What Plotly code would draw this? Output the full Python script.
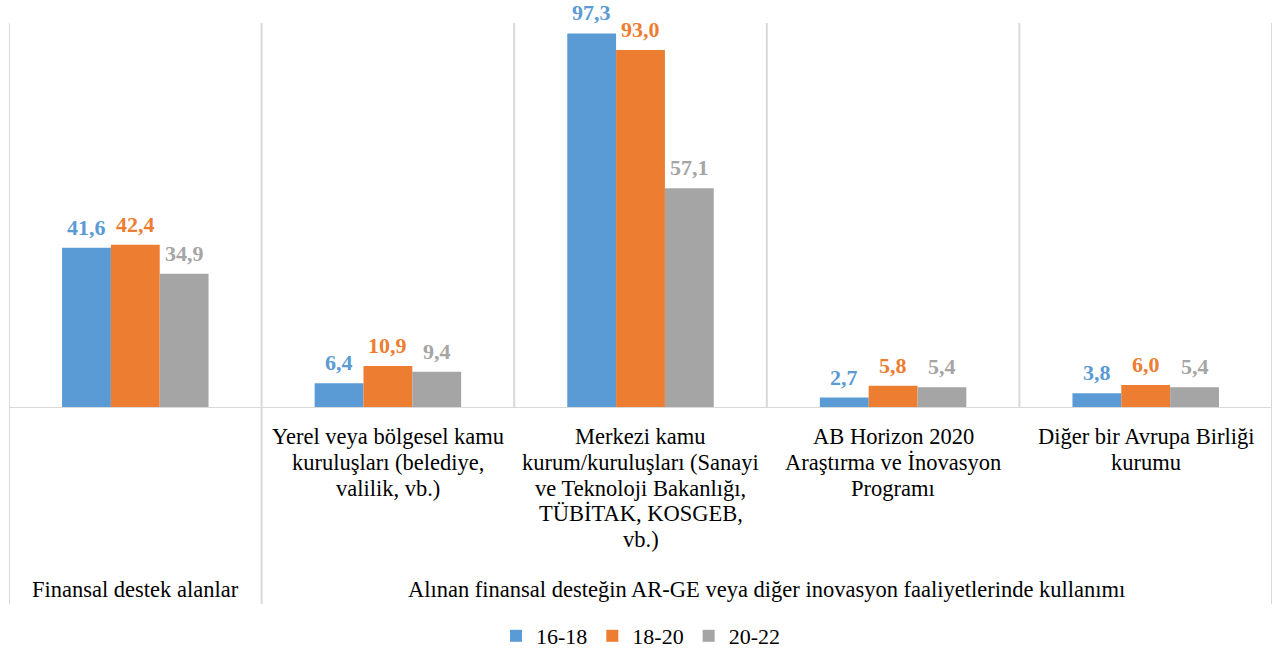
import plotly.graph_objects as go

categories = [
    "",
    "Yerel veya bölgesel kamu<br>kuruluşları (belediye,<br>valilik, vb.)",
    "Merkezi kamu<br>kurum/kuruluşları (Sanayi<br>ve Teknoloji Bakanlığı,<br>TÜBİTAK, KOSGEB,<br>vb.)",
    "AB Horizon 2020<br>Araştırma ve İnovasyon<br>Programı",
    "Diğer bir Avrupa Birliği<br>kurumu",
]
top_groups = [
    "Finansal destek alanlar",
    "Alınan finansal desteğin AR-GE veya diğer inovasyon faaliyetlerinde kullanımı",
]
top_group_spans = [(0, 0), (1, 4)]
series_names = ["16-18", "18-20", "20-22"]
values_16_18 = [41.6, 6.4, 97.3, 2.7, 3.8]
values_18_20 = [42.4, 10.9, 93.0, 5.8, 6.0]
values_20_22 = [34.9, 9.4, 57.1, 5.4, 5.4]
colors = ["#5B9BD5", "#ED7D31", "#A5A5A5"]

FONT = "Liberation Serif"
x = list(range(len(categories)))
n = len(categories)
series_values = [values_16_18, values_18_20, values_20_22]

W, H = 1287, 655
ML, MT, MR, MB = 9, 23, 15, 247
PH = H - MT - MB
BARGAP = 0.42

def py(offset_px):
    """paper y for a pixel offset below the plot bottom"""
    return -offset_px / PH

fig = go.Figure()
for name, vals, col in zip(series_names, series_values, colors):
    fig.add_trace(go.Bar(
        x=x, y=vals, name=name,
        marker=dict(color=col, line=dict(width=0)),
        hoverinfo="x+y",
    ))

# value labels above the bars
group_px = (W - ML - MR) / n
bar_px = group_px * (1 - BARGAP) / len(series_names)
annotations = []
for j, (vals, col) in enumerate(zip(series_values, colors)):
    for i, v in enumerate(vals):
        annotations.append(dict(
            x=i, y=v, xref="x", yref="y", showarrow=False,
            text=f"{v:.1f}".replace(".", ","),
            xanchor="center", yanchor="bottom", borderpad=0,
            xshift=(j - (len(series_names) - 1) / 2) * bar_px, yshift=7,
            font=dict(family=FONT, size=22, color=col, weight="bold"),
        ))

grid = "#D9D9D9"
shapes = []
for i in range(n + 1):
    shapes.append(dict(type="line", xref="x", yref="paper", x0=i - 0.5, x1=i - 0.5,
                       y0=0, y1=1, line=dict(color=grid, width=2), layer="below"))
for b in [-0.5, 0.5, n - 0.5]:
    shapes.append(dict(type="line", xref="x", yref="paper", x0=b, x1=b,
                       y0=py(196), y1=0, line=dict(color=grid, width=2), layer="below"))
shapes.append(dict(type="line", xref="x", yref="y", x0=-0.5, x1=n - 0.5, y0=0, y1=0,
                   line=dict(color=grid, width=2)))

for i, c in enumerate(categories):
    if not c:
        continue
    for k, line in enumerate(c.split("<br>")):
        annotations.append(dict(x=i, xref="x", y=py(29 + 25.6 * k), yref="paper", text=line,
                                showarrow=False, yanchor="middle", xanchor="center",
                                font=dict(family=FONT, size=22.5, color="#000000")))
for label, (a, b) in zip(top_groups, top_group_spans):
    annotations.append(dict(x=(a + b) / 2, xref="x", y=py(181), yref="paper", text=label,
                            showarrow=False, yanchor="middle", xanchor="center",
                            font=dict(family=FONT, size=22.5, color="#000000")))

fig.update_layout(
    width=W, height=H,
    margin=dict(l=ML, r=MR, t=MT, b=MB, autoexpand=False),
    paper_bgcolor="white", plot_bgcolor="white",
    barmode="group", bargap=BARGAP, bargroupgap=0.0,
    xaxis=dict(range=[-0.5, n - 0.5], showgrid=False, zeroline=False,
               showticklabels=False, ticks=""),
    yaxis=dict(range=[0, 100], showgrid=False, zeroline=False,
               showticklabels=False, ticks=""),
    showlegend=True,
    legend=dict(orientation="h", x=0.5, xanchor="center", y=py(228), yanchor="middle",
                font=dict(family=FONT, size=22, color="#000000"),
                itemwidth=30, traceorder="normal"),
    shapes=shapes, annotations=annotations,
    font=dict(family=FONT),
)

fig.write_html("out.html", config={"displayModeBar": False},
               post_script="document.body.style.margin='0px';")
